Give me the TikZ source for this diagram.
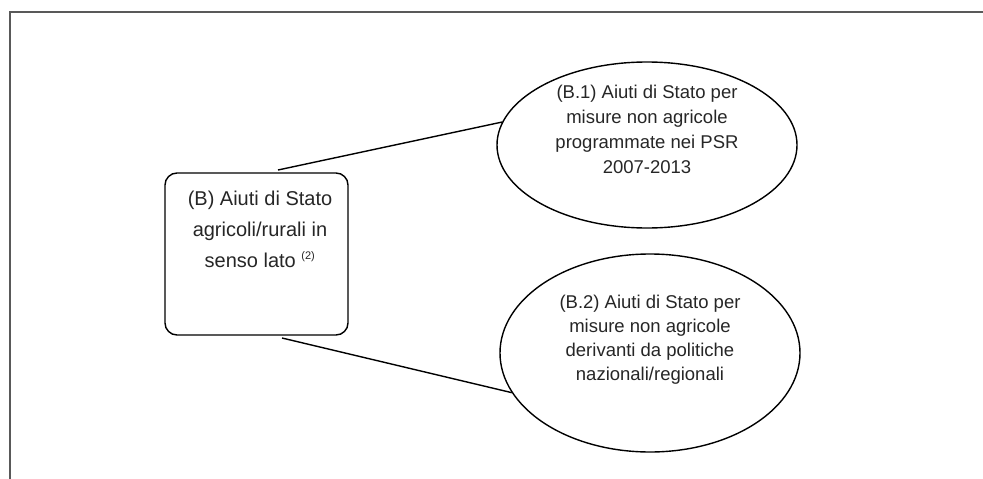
\documentclass[tikz,border=0pt]{standalone}
\usepackage{fontspec}
\setmainfont{Liberation Sans}
\usetikzlibrary{shapes.geometric}
\begin{document}
\begin{tikzpicture}[x=1pt,y=-1pt,
  framel/.style={draw=black!65, line width=2pt},
  boxst/.style={draw=black, line width=1.4pt, rounded corners=12pt, inner sep=0pt},
  ellst/.style={draw=black, line width=1.4pt, ellipse, inner sep=0pt},
  txt/.style={align=center, inner sep=0pt, text=black!85},
  conn/.style={draw=black, line width=1.4pt}]
\useasboundingbox (0,0) rectangle (983,479);
\draw[framel] (983,12) -- (9.5,12) -- (9.5,479);
\node[boxst, minimum width=183pt, minimum height=162pt] (b) at (256.5,254) {};
\node[ellst, minimum width=300pt, minimum height=166pt] (e1) at (647,145) {};
\node[ellst, minimum width=300pt, minimum height=198pt] (e2) at (650,353) {};
\node[txt, font=\fontsize{20}{31}\selectfont] (tb) at (260,229) {(B) Aiuti di Stato\\agricoli/rurali in\\senso lato \textsuperscript{\fontsize{11}{11}\selectfont(2)}};
\node[txt, font=\fontsize{18.5}{25}\selectfont] (t1) at (647,129) {(B.1) Aiuti di Stato per\\misure non agricole\\programmate nei PSR\\2007-2013};
\node[txt, font=\fontsize{18.5}{24}\selectfont] (t2) at (650,340) {(B.2) Aiuti di Stato per\\misure non agricole\\derivanti da politiche\\nazionali/regionali};
\coordinate (c1) at (278,170);
\coordinate (c2) at (282,338);
\draw[conn] (c1) -- (e1.171);
\draw[conn] (c2) -- (e2.196);
\end{tikzpicture}
\end{document}
